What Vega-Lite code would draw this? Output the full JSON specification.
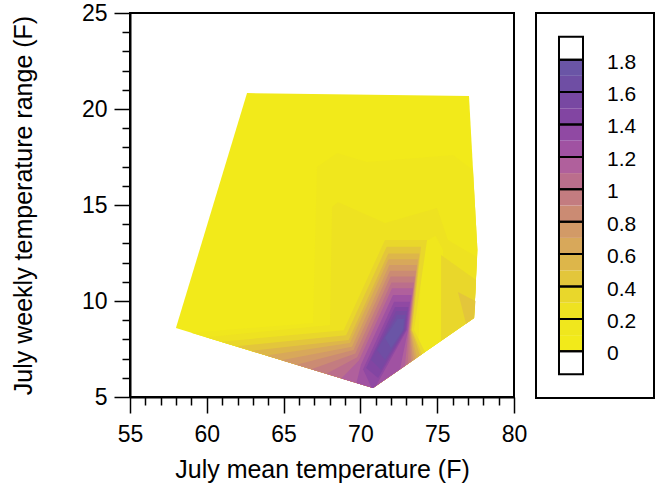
{
  "$schema": "https://vega.github.io/schema/vega-lite/v6.json",
  "padding": {"left": 10, "top": 1, "right": 10, "bottom": 5},
  "bounds": "flush",
  "spacing": 22,
  "config": {
    "view": {"stroke": "black", "strokeWidth": 2},
    "font": "Liberation Sans",
    "axis": {"labelFont": "Liberation Sans", "titleFont": "Liberation Sans", "labelColor": "black", "titleColor": "black", "titleFontWeight": "normal", "domainColor": "black", "tickColor": "black", "grid": false, "titleLimit": 1000}
  },
  "datasets": {
    "poly": [
      {"p":0,"i":0,"lev":0,"x":57.99,"y":8.59},{"p":0,"i":1,"lev":0,"x":62.62,"y":20.83},{"p":0,"i":2,"lev":0,"x":77.07,"y":20.68},{"p":0,"i":3,"lev":0,"x":77.62,"y":12.66},{"p":0,"i":4,"lev":0,"x":77.40,"y":9.11},{"p":0,"i":5,"lev":0,"x":70.82,"y":5.47},
      {"p":1,"i":0,"lev":0.1,"x":58.97,"y":8.35},{"p":1,"i":1,"lev":0.1,"x":66.91,"y":8.85},{"p":1,"i":2,"lev":0.1,"x":67.17,"y":16.98},{"p":1,"i":3,"lev":0.1,"x":68.48,"y":17.71},{"p":1,"i":4,"lev":0.1,"x":70.43,"y":17.24},{"p":1,"i":5,"lev":0.1,"x":76.03,"y":17.60},{"p":1,"i":6,"lev":0.1,"x":77.33,"y":16.82},{"p":1,"i":7,"lev":0.1,"x":77.62,"y":12.66},{"p":1,"i":8,"lev":0.1,"x":77.40,"y":9.11},{"p":1,"i":9,"lev":0.1,"x":70.82,"y":5.47},
      {"p":2,"i":0,"lev":0.2,"x":59.95,"y":8.11},{"p":2,"i":1,"lev":0.2,"x":68.02,"y":8.75},{"p":2,"i":2,"lev":0.2,"x":68.15,"y":14.90},{"p":2,"i":3,"lev":0.2,"x":68.54,"y":15.16},{"p":2,"i":4,"lev":0.2,"x":71.60,"y":14.06},{"p":2,"i":5,"lev":0.2,"x":74.99,"y":14.84},{"p":2,"i":6,"lev":0.2,"x":75.70,"y":13.18},{"p":2,"i":7,"lev":0.2,"x":77.59,"y":12.29},{"p":2,"i":8,"lev":0.2,"x":77.40,"y":9.11},{"p":2,"i":9,"lev":0.2,"x":70.82,"y":5.47},
      {"p":3,"i":0,"lev":0.1,"x":74.0,"y":13.0},{"p":3,"i":1,"lev":0.1,"x":74.9,"y":13.4},{"p":3,"i":2,"lev":0.1,"x":75.38,"y":12.66},{"p":3,"i":3,"lev":0.1,"x":75.25,"y":7.92},{"p":3,"i":4,"lev":0.1,"x":73.75,"y":7.09},
      {"p":4,"i":0,"lev":0.3,"x":75.25,"y":12.40},{"p":4,"i":1,"lev":0.3,"x":77.53,"y":11.09},{"p":4,"i":2,"lev":0.3,"x":77.40,"y":9.11},{"p":4,"i":3,"lev":0.3,"x":75.25,"y":7.92},
      {"p":5,"i":0,"lev":0.4,"x":76.35,"y":10.47},{"p":5,"i":1,"lev":0.4,"x":77.49,"y":10.00},{"p":5,"i":2,"lev":0.4,"x":77.40,"y":9.11},{"p":5,"i":3,"lev":0.4,"x":76.875,"y":8.82},
      {"p":6,"i":0,"lev":0.3,"x":60.93,"y":7.88},{"p":6,"i":1,"lev":0.3,"x":68.91,"y":8.48},{"p":6,"i":2,"lev":0.3,"x":71.60,"y":13.18},{"p":6,"i":3,"lev":0.3,"x":74.34,"y":13.18},{"p":6,"i":4,"lev":0.3,"x":73.49,"y":8.49},{"p":6,"i":5,"lev":0.3,"x":74.21,"y":7.34},{"p":6,"i":6,"lev":0.3,"x":70.82,"y":5.47},
      {"p":7,"i":0,"lev":0.4,"x":61.91,"y":7.64},{"p":7,"i":1,"lev":0.4,"x":69.07,"y":8.22},{"p":7,"i":2,"lev":0.4,"x":71.71,"y":12.83},{"p":7,"i":3,"lev":0.4,"x":73.95,"y":12.83},{"p":7,"i":4,"lev":0.4,"x":73.36,"y":8.49},{"p":7,"i":5,"lev":0.4,"x":74.01,"y":7.23},{"p":7,"i":6,"lev":0.4,"x":70.82,"y":5.47},
      {"p":8,"i":0,"lev":0.5,"x":62.89,"y":7.40},{"p":8,"i":1,"lev":0.5,"x":69.23,"y":7.97},{"p":8,"i":2,"lev":0.5,"x":71.82,"y":12.48},{"p":8,"i":3,"lev":0.5,"x":73.85,"y":12.48},{"p":8,"i":4,"lev":0.5,"x":73.33,"y":8.49},{"p":8,"i":5,"lev":0.5,"x":73.88,"y":7.16},{"p":8,"i":6,"lev":0.5,"x":70.82,"y":5.47},
      {"p":9,"i":0,"lev":0.6,"x":63.87,"y":7.16},{"p":9,"i":1,"lev":0.6,"x":69.32,"y":7.81},{"p":9,"i":2,"lev":0.6,"x":71.83,"y":12.17},{"p":9,"i":3,"lev":0.6,"x":73.75,"y":12.17},{"p":9,"i":4,"lev":0.6,"x":73.29,"y":8.49},{"p":9,"i":5,"lev":0.6,"x":73.68,"y":7.05},{"p":9,"i":6,"lev":0.6,"x":70.82,"y":5.47},
      {"p":10,"i":0,"lev":0.7,"x":64.85,"y":6.92},{"p":10,"i":1,"lev":0.7,"x":69.45,"y":7.62},{"p":10,"i":2,"lev":0.7,"x":71.89,"y":11.875},{"p":10,"i":3,"lev":0.7,"x":73.68,"y":11.875},{"p":10,"i":4,"lev":0.7,"x":73.26,"y":8.49},{"p":10,"i":5,"lev":0.7,"x":73.55,"y":6.98},{"p":10,"i":6,"lev":0.7,"x":70.82,"y":5.47},
      {"p":11,"i":0,"lev":0.8,"x":65.83,"y":6.68},{"p":11,"i":1,"lev":0.8,"x":69.55,"y":7.45},{"p":11,"i":2,"lev":0.8,"x":71.93,"y":11.58},{"p":11,"i":3,"lev":0.8,"x":73.62,"y":11.58},{"p":11,"i":4,"lev":0.8,"x":73.23,"y":8.49},{"p":11,"i":5,"lev":0.8,"x":73.42,"y":6.91},{"p":11,"i":6,"lev":0.8,"x":70.82,"y":5.47},
      {"p":12,"i":0,"lev":0.9,"x":66.80,"y":6.45},{"p":12,"i":1,"lev":0.9,"x":69.67,"y":7.26},{"p":12,"i":2,"lev":0.9,"x":71.97,"y":11.27},{"p":12,"i":3,"lev":0.9,"x":73.55,"y":11.27},{"p":12,"i":4,"lev":0.9,"x":73.20,"y":8.49},{"p":12,"i":5,"lev":0.9,"x":73.29,"y":6.84},{"p":12,"i":6,"lev":0.9,"x":70.82,"y":5.47},
      {"p":13,"i":0,"lev":1.0,"x":67.78,"y":6.21},{"p":13,"i":1,"lev":1.0,"x":69.79,"y":7.07},{"p":13,"i":2,"lev":1.0,"x":72.02,"y":10.97},{"p":13,"i":3,"lev":1.0,"x":73.49,"y":10.97},{"p":13,"i":4,"lev":1.0,"x":73.16,"y":8.49},{"p":13,"i":5,"lev":1.0,"x":73.10,"y":6.73},{"p":13,"i":6,"lev":1.0,"x":70.82,"y":5.47},
      {"p":14,"i":0,"lev":1.1,"x":68.76,"y":5.97},{"p":14,"i":1,"lev":1.1,"x":69.90,"y":6.90},{"p":14,"i":2,"lev":1.1,"x":72.06,"y":10.66},{"p":14,"i":3,"lev":1.1,"x":73.42,"y":10.66},{"p":14,"i":4,"lev":1.1,"x":73.13,"y":8.49},{"p":14,"i":5,"lev":1.1,"x":72.90,"y":6.62},{"p":14,"i":6,"lev":1.1,"x":70.82,"y":5.47},
      {"p":15,"i":0,"lev":1.2,"x":69.74,"y":5.73},{"p":15,"i":1,"lev":1.2,"x":70.03,"y":6.68},{"p":15,"i":2,"lev":1.2,"x":72.12,"y":10.31},{"p":15,"i":3,"lev":1.2,"x":73.33,"y":10.31},{"p":15,"i":4,"lev":1.2,"x":73.10,"y":8.49},{"p":15,"i":5,"lev":1.2,"x":72.58,"y":6.44},{"p":15,"i":6,"lev":1.2,"x":70.82,"y":5.47},
      {"p":16,"i":0,"lev":1.3,"x":70.72,"y":5.49},{"p":16,"i":1,"lev":1.3,"x":70.17,"y":6.45},{"p":16,"i":2,"lev":1.3,"x":72.19,"y":9.96},{"p":16,"i":3,"lev":1.3,"x":73.23,"y":9.96},{"p":16,"i":4,"lev":1.3,"x":73.03,"y":8.49},{"p":16,"i":5,"lev":1.3,"x":71.02,"y":5.58},{"p":16,"i":6,"lev":1.3,"x":70.82,"y":5.47},
      {"p":17,"i":0,"lev":1.4,"x":70.37,"y":6.51},{"p":17,"i":1,"lev":1.4,"x":72.25,"y":9.69},{"p":17,"i":2,"lev":1.4,"x":73.13,"y":9.69},{"p":17,"i":3,"lev":1.4,"x":72.97,"y":8.49},{"p":17,"i":4,"lev":1.4,"x":71.15,"y":5.99},
      {"p":18,"i":0,"lev":1.5,"x":70.69,"y":6.93},{"p":18,"i":1,"lev":1.5,"x":72.32,"y":9.48},{"p":18,"i":2,"lev":1.5,"x":73.03,"y":9.48},{"p":18,"i":3,"lev":1.5,"x":72.90,"y":8.49},{"p":18,"i":4,"lev":1.5,"x":71.34,"y":6.41},
      {"p":19,"i":0,"lev":1.6,"x":71.08,"y":7.45},{"p":19,"i":1,"lev":1.6,"x":72.38,"y":9.27},{"p":19,"i":2,"lev":1.6,"x":72.94,"y":9.27},{"p":19,"i":3,"lev":1.6,"x":72.84,"y":8.49},{"p":19,"i":4,"lev":1.6,"x":71.60,"y":6.93},
      {"p":20,"i":0,"lev":1.7,"x":71.60,"y":8.07},{"p":20,"i":1,"lev":1.7,"x":72.42,"y":9.06},{"p":20,"i":2,"lev":1.7,"x":72.84,"y":9.06},{"p":20,"i":3,"lev":1.7,"x":72.77,"y":8.49},{"p":20,"i":4,"lev":1.7,"x":71.99,"y":7.55}
    ],
    "cbar": [
      {"lo":-0.142,"hi":0,"lev":9},
      {"lo":0,"hi":0.1,"lev":0},{"lo":0.1,"hi":0.2,"lev":0.1},{"lo":0.2,"hi":0.3,"lev":0.2},{"lo":0.3,"hi":0.4,"lev":0.3},
      {"lo":0.4,"hi":0.5,"lev":0.4},{"lo":0.5,"hi":0.6,"lev":0.5},{"lo":0.6,"hi":0.7,"lev":0.6},{"lo":0.7,"hi":0.8,"lev":0.7},
      {"lo":0.8,"hi":0.9,"lev":0.8},{"lo":0.9,"hi":1.0,"lev":0.9},{"lo":1.0,"hi":1.1,"lev":1.0},{"lo":1.1,"hi":1.2,"lev":1.1},
      {"lo":1.2,"hi":1.3,"lev":1.2},{"lo":1.3,"hi":1.4,"lev":1.3},{"lo":1.4,"hi":1.5,"lev":1.4},{"lo":1.5,"hi":1.6,"lev":1.5},
      {"lo":1.6,"hi":1.7,"lev":1.6},{"lo":1.7,"hi":1.8,"lev":1.7},
      {"lo":1.8,"hi":1.942,"lev":9}
    ],
    "cbox": [
      {"lo":-0.142,"hi":0},{"lo":0,"hi":0.2},{"lo":0.2,"hi":0.4},{"lo":0.4,"hi":0.6},{"lo":0.6,"hi":0.8},{"lo":0.8,"hi":1.0},
      {"lo":1.0,"hi":1.2},{"lo":1.2,"hi":1.4},{"lo":1.4,"hi":1.6},{"lo":1.6,"hi":1.8},{"lo":1.8,"hi":1.942}
    ],
    "clab": [
      {"v":0,"t":"0"},{"v":0.2,"t":"0.2"},{"v":0.4,"t":"0.4"},{"v":0.6,"t":"0.6"},{"v":0.8,"t":"0.8"},
      {"v":1.0,"t":"1"},{"v":1.2,"t":"1.2"},{"v":1.4,"t":"1.4"},{"v":1.6,"t":"1.6"},{"v":1.8,"t":"1.8"}
    ]
  },
  "hconcat": [
    {
      "width": 384,
      "height": 384,
      "data": {"name": "poly"},
      "mark": {"type": "line", "filled": true, "interpolate": "linear-closed"},
      "encoding": {
        "x": {"field": "x", "type": "quantitative", "scale": {"domain": [55, 80], "nice": false, "zero": false},
          "axis": {"title": "July mean temperature (F)", "values": [55,56,57,58,59,60,61,62,63,64,65,66,67,68,69,70,71,72,73,74,75,76,77,78,79,80],
            "labelExpr": "datum.value % 5 === 0 ? datum.label : ''", "labelOverlap": false, "labelFlush": false,
            "tickSize": {"condition": {"test": "datum.value % 5 === 0", "value": 16}, "value": 8},
            "labelFontSize": 23, "titleFontSize": 25, "labelPadding": 10, "titlePadding": 11, "domainWidth": 2, "tickWidth": 1.5}},
        "y": {"field": "y", "type": "quantitative", "scale": {"domain": [5, 25], "nice": false, "zero": false},
          "axis": {"title": "July weekly temperature range (F)", "values": [5,6,7,8,9,10,11,12,13,14,15,16,17,18,19,20,21,22,23,24,25],
            "labelExpr": "datum.value % 5 === 0 ? datum.label : ''", "labelOverlap": false, "labelFlush": false,
            "tickSize": {"condition": {"test": "datum.value % 5 === 0", "value": 16}, "value": 8},
            "labelFontSize": 23, "titleFontSize": 25, "labelPadding": 7, "titlePadding": 45, "domainWidth": 2, "tickWidth": 1.5}},
        "order": {"field": "i", "type": "quantitative"},
        "detail": {"field": "p", "type": "nominal"},
        "color": {"field": "lev", "type": "ordinal",
          "scale": {"domain": [0,0.1,0.2,0.3,0.4,0.5,0.6,0.7,0.8,0.9,1.0,1.1,1.2,1.3,1.4,1.5,1.6,1.7,9],
            "range": ["#f2ea1a","#f0e71d","#eee221","#e9d72b","#e3c63b","#ddb64a","#d8a85a","#d29a67","#cb8b73","#c37c80","#bb6e8c","#b0609c","#a052a2","#9049a3","#8245a2","#7848a2","#6f4ea4","#6a55a6","#ffffff"]},
          "legend": null}
      }
    },
    {
      "width": 118,
      "height": 385,
      "layer": [
        {
          "data": {"name": "cbar"},
          "mark": {"type": "rect"},
          "encoding": {
            "x": {"datum": "bar", "type": "nominal", "scale": {"domain": ["bar", "lab"], "paddingInner": 0.5, "paddingOuter": 0.479}, "axis": null},
            "y": {"field": "lo", "type": "quantitative", "scale": {"domain": [-0.288, 2.088], "nice": false, "zero": false}, "axis": null},
            "y2": {"field": "hi"},
            "color": {"field": "lev", "type": "ordinal",
              "scale": {"domain": [0,0.1,0.2,0.3,0.4,0.5,0.6,0.7,0.8,0.9,1.0,1.1,1.2,1.3,1.4,1.5,1.6,1.7,9],
                "range": ["#f2ea1a","#f0e71d","#eee221","#e9d72b","#e3c63b","#ddb64a","#d8a85a","#d29a67","#cb8b73","#c37c80","#bb6e8c","#b0609c","#a052a2","#9049a3","#8245a2","#7848a2","#6f4ea4","#6a55a6","#ffffff"]},
              "legend": null}
          }
        },
        {
          "data": {"name": "cbox"},
          "mark": {"type": "rect", "filled": false, "color": "black", "strokeWidth": 2},
          "encoding": {
            "x": {"datum": "bar", "type": "nominal", "scale": {"domain": ["bar", "lab"], "paddingInner": 0.5, "paddingOuter": 0.479}, "axis": null},
            "y": {"field": "lo", "type": "quantitative", "scale": {"domain": [-0.288, 2.088], "nice": false, "zero": false}, "axis": null},
            "y2": {"field": "hi"}
          }
        },
        {
          "data": {"name": "clab"},
          "mark": {"type": "text", "align": "left", "baseline": "middle", "fontSize": 21, "font": "Liberation Sans", "dy": 3, "color": "black"},
          "encoding": {
            "x": {"datum": "lab", "type": "nominal", "bandPosition": 0, "scale": {"domain": ["bar", "lab"], "paddingInner": 0.5, "paddingOuter": 0.479}, "axis": null},
            "y": {"field": "v", "type": "quantitative", "scale": {"domain": [-0.288, 2.088], "nice": false, "zero": false}, "axis": null},
            "text": {"field": "t"}
          }
        }
      ]
    }
  ]
}
